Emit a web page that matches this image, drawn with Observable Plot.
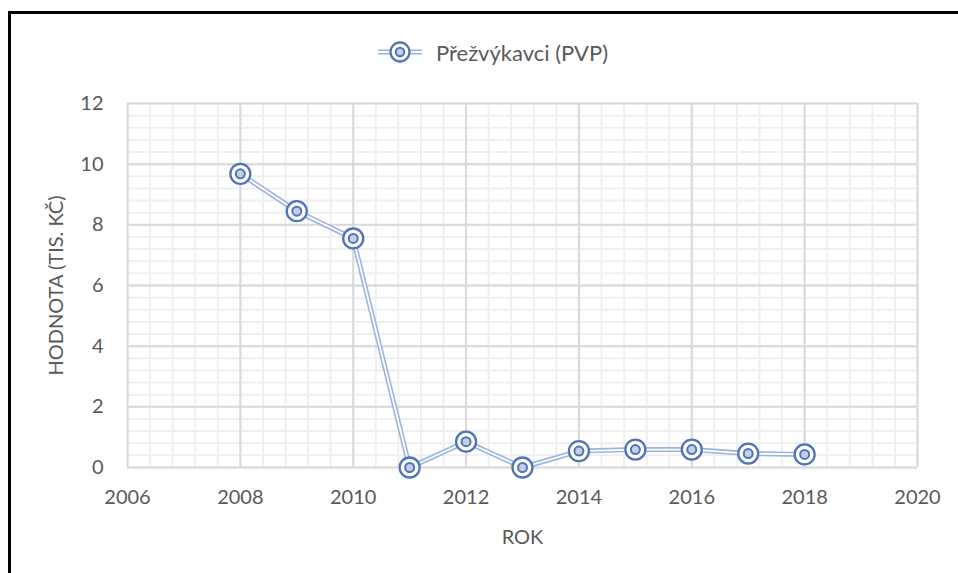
<!DOCTYPE html>
<html>
<head>
<meta charset="utf-8">
<script src="https://cdn.jsdelivr.net/npm/d3@7"></script>
<script src="https://cdn.jsdelivr.net/npm/@observablehq/plot@0.6"></script>
<style>
  html, body { margin: 0; padding: 0; background: #fff; width: 958px; height: 573px; overflow: hidden; }
  #frame { position: absolute; left: 8px; top: 11px; width: 960px; height: 580px; z-index: 5; pointer-events: none;
           border-top: 3px solid #000; border-left: 3px solid #000; box-sizing: border-box; }
  #legend { position: absolute; left: 378px; top: 36px; white-space: nowrap;
            font-family: Lato, sans-serif; font-size: 22px; color: #595959; }
  #legend span { vertical-align: middle; }
  #chart { position: absolute; left: 0; top: 80px; }
</style>
</head>
<body>
<div id="frame"></div>
<div id="legend"></div>
<div id="chart"></div>
<script>
const seriesName = "Přežvýkavci (PVP)";
const years = [2008, 2009, 2010, 2011, 2012, 2013, 2014, 2015, 2016, 2017, 2018];
const values = [9.68, 8.45, 7.55, 0.0, 0.85, 0.0, 0.54, 0.59, 0.59, 0.46, 0.43];
const xTicks = [2006, 2008, 2010, 2012, 2014, 2016, 2018, 2020];
const yTicks = [0, 2, 4, 6, 8, 10, 12];
const xTitle = "ROK";
const yTitle = "HODNOTA (TIS. KČ)";

const data = years.map((y, i) => ({year: y, value: values[i]}));
const xMinor = d3.range(0, 36).map(i => 2006 + i * 0.4);
const yMinor = d3.range(0, 31).map(i => i * 0.4);

const lineColor = "#9bb3df";
const markColor = "#5074b8";

// legend
const leg = document.getElementById("legend");
leg.innerHTML = `<svg width="44" height="26" style="vertical-align:middle;margin-right:14px">
  <line x1="0" x2="44" y1="13" y2="13" stroke="${lineColor}" stroke-width="5"/>
  <line x1="0" x2="44" y1="13" y2="13" stroke="#fff" stroke-width="1.8"/>
  <circle cx="22" cy="13" r="9.5" fill="#fff" stroke="${markColor}" stroke-width="2.3"/>
  <circle cx="22" cy="13" r="4.3" fill="#c3cfe8" stroke="${markColor}" stroke-width="2"/>
</svg><span>${seriesName}</span>`;

const chart = Plot.plot({
  width: 958,
  height: 493,
  marginLeft: 127,
  marginRight: 41,
  marginTop: 23,
  marginBottom: 106,
  style: {fontFamily: "Lato, sans-serif", fontSize: "20px", color: "#595959", background: "transparent"},
  x: {domain: [2006, 2020], ticks: xTicks, tickFormat: d => String(d)},
  y: {domain: [0, 12], ticks: yTicks},
  marks: [
    Plot.ruleX(xMinor, {stroke: "#efefef", strokeWidth: 2}),
    Plot.ruleY(yMinor, {stroke: "#efefef", strokeWidth: 2}),
    Plot.ruleX(xTicks, {stroke: "#d9d9d9", strokeWidth: 2}),
    Plot.ruleY(yTicks, {stroke: "#d9d9d9", strokeWidth: 2}),
    Plot.axisX({ticks: xTicks, tickSize: 0, tickPadding: 22, tickFormat: d => String(d),
      label: xTitle, labelAnchor: "center", labelArrow: "none", labelOffset: 76, fontSize: 20}),
    Plot.axisY({ticks: yTicks, tickSize: 0, tickPadding: 24,
      label: yTitle, labelAnchor: "center", labelArrow: "none", labelOffset: 79, fontSize: 20}),
    Plot.line(data, {x: "year", y: "value", stroke: lineColor, strokeWidth: 5}),
    Plot.line(data, {x: "year", y: "value", stroke: "#fff", strokeWidth: 1.8}),
    Plot.dot(data, {x: "year", y: "value", r: 10, fill: "#fff", stroke: markColor, strokeWidth: 2.3}),
    Plot.dot(data, {x: "year", y: "value", r: 4.5, fill: "#c3cfe8", stroke: markColor, strokeWidth: 2})
  ]
});
document.getElementById("chart").appendChild(chart);
</script>
</body>
</html>
